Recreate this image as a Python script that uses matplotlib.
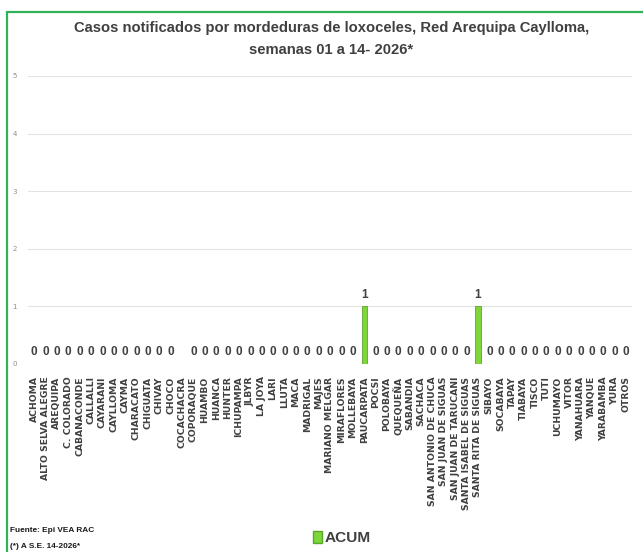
import matplotlib
matplotlib.use('Agg')
import matplotlib.pyplot as plt
from matplotlib import font_manager
from matplotlib.patches import Rectangle, Patch
import numpy as np

# Districts of Red Arequipa Caylloma
distritos = ['ACHOMA', 'ALTO SELVA ALEGRE', 'AREQUIPA', 'C. COLORADO', 'CABANACONDE',
             'CALLALLI', 'CAYARANI', 'CAYLLOMA', 'CAYMA', 'CHARACATO', 'CHIGUATA',
             'CHIVAY', 'CHOCO', 'COCACHACRA', 'COPORAQUE', 'HUAMBO', 'HUANCA', 'HUNTER',
             'ICHUPAMPA', 'JLBYR', 'LA JOYA', 'LARI', 'LLUTA', 'MACA', 'MADRIGAL',
             'MAJES', 'MARIANO MELGAR', 'MIRAFLORES', 'MOLLEBAYA', 'PAUCARPATA', 'POCSI',
             'POLOBAYA', 'QUEQUEÑA', 'SABANDIA', 'SACHACA', 'SAN ANTONIO DE CHUCA',
             'SAN JUAN DE SIGUAS', 'SAN JUAN DE TARUCANI', 'SANTA ISABEL DE SIGUAS',
             'SANTA RITA DE SIGUAS', 'SIBAYO', 'SOCABAYA', 'TAPAY', 'TIABAYA', 'TISCO',
             'TUTI', 'UCHUMAYO', 'VITOR', 'YANAHUARA', 'YANQUE', 'YARABAMBA', 'YURA',
             'OTROS']

# accumulated cases (None = no value shown, COCACHACRA)
acum = [0, 0, 0, 0, 0, 0, 0, 0, 0, 0, 0, 0, 0, None, 0, 0, 0, 0, 0, 0, 0, 0, 0, 0,
        0, 0, 0, 0, 0, 1, 0, 0, 0, 0, 0, 0, 0, 0, 0, 1, 0, 0, 0, 0, 0, 0, 0, 0, 0, 0,
        0, 0, 0]

y_ticks = [0, 1, 2, 3, 4, 5]

# narrow font if there is one, else plain Liberation Sans
names = set(f.name for f in font_manager.fontManager.ttflist)
if 'Liberation Sans Narrow' in names:
    NARROW, nscale = 'Liberation Sans Narrow', 1.0
else:
    NARROW, nscale = 'Liberation Sans', 0.85

fig = plt.figure(figsize=(6.43, 5.52), dpi=100)
ax = fig.add_axes([28/643, 1 - 364/552, 604/643, 288/552])

x = np.arange(len(distritos))
vals = np.array([np.nan if v is None else v for v in acum], dtype=float)
ax.bar(x, np.nan_to_num(vals), width=0.45, color='#7ed63a', edgecolor='#5aa82a',
       linewidth=0.6, zorder=3)

# data labels
for xi, v in zip(x, acum):
    if v is None:
        continue
    ax.text(xi, v + 0.1, str(v), ha='center', va='bottom', fontsize=10 * nscale,
            family=NARROW, fontweight='bold', color='#404040')

ax.set_xlim(-0.53, len(distritos) - 0.47)
ax.set_ylim(0, 5)
ax.set_yticks(y_ticks)
ax.set_yticklabels([str(t) for t in y_ticks], fontsize=5, color='#8c8c8c')
ax.tick_params(axis='y', length=0, pad=8)
ax.set_xticks(x)
ax.set_xticklabels(distritos, rotation=90, fontsize=6.7, fontweight='bold',
                   color='#404040')
ax.tick_params(axis='x', length=0, pad=9)
ax.grid(axis='y', color='#e3e3e3', linewidth=0.8, zorder=0)
for s in ax.spines.values():
    s.set_visible(False)

fig.text(0.515, 1 - 28/552, 'Casos notificados por mordeduras de loxoceles, Red Arequipa Caylloma,',
         ha='center', va='center', fontsize=12.5 * nscale, family=NARROW,
         fontweight='bold', color='#404040')
fig.text(0.515, 1 - 50/552, 'semanas 01 a 14- 2026*', ha='center', va='center',
         fontsize=12.5 * nscale, family=NARROW, fontweight='bold', color='#404040')

# footnotes
fig.text(10/643, 1 - 531/552, 'Fuente: Epi VEA RAC', ha='left', va='center',
         fontsize=7 * nscale, family=NARROW, fontweight='bold', color='#1a1a1a')
fig.text(10/643, 1 - 546/552, '(*) A S.E. 14-2026*', ha='left', va='center',
         fontsize=7 * nscale, family=NARROW, fontweight='bold', color='#1a1a1a')

# legend
leg = fig.legend(handles=[Patch(facecolor='#7ed63a', edgecolor='#5aa82a', label='ACUM')],
                 loc='center', bbox_to_anchor=(342/643, 1 - 538/552), frameon=False,
                 handlelength=0.6, handleheight=0.9, handletextpad=0.2,
                 prop={'family': NARROW, 'weight': 'bold', 'size': 13 * nscale})
for t in leg.get_texts():
    t.set_color('#404040')

# green chart frame
fig.patches.append(Rectangle((7/643, -0.1), 1.2, 1.1 - 12/552, transform=fig.transFigure,
                             fill=False, edgecolor='#2eb35a', linewidth=1.6))

fig.savefig('out.png', dpi=100)
